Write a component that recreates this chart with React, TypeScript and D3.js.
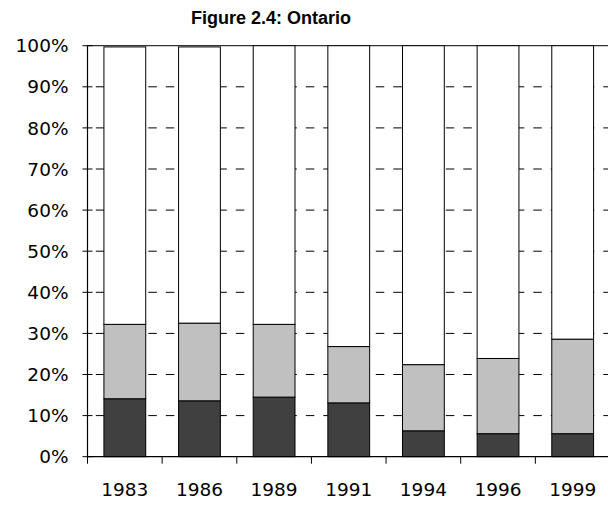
import React from "react";
import * as d3 from "d3";

const years = ["1983", "1986", "1989", "1991", "1994", "1996", "1999"];
const darkShare = [14.1, 13.6, 14.5, 13.1, 6.3, 5.6, 5.6];
const grayTop = [32.2, 32.5, 32.2, 26.8, 22.4, 23.9, 28.6];
const whiteTop = [99.7, 99.7, 100, 100, 100, 100, 100];
const yTicks = [0, 10, 20, 30, 40, 50, 60, 70, 80, 90, 100];
const title = "Figure 2.4: Ontario";

const W = 608, H = 505;
const left = 87.5, right = 610, top = 45.7, bottom = 456.7;

export default function App() {
  const x = d3.scaleBand<string>().domain(years).range([left, right]).paddingInner(0.44).paddingOuter(0.22);
  const xb = d3.scaleBand<string>().domain(years).range([left, right]);
  const y = d3.scaleLinear().domain([0, 100]).range([bottom, top]);
  const font = "'DejaVu Sans', Verdana, sans-serif";
  const segs = years.map((yr, i) => [
    { y0: 0, y1: darkShare[i], fill: "#404040" },
    { y0: darkShare[i], y1: grayTop[i], fill: "#c0c0c0" },
    { y0: grayTop[i], y1: whiteTop[i], fill: "#ffffff" },
  ]);
  return (
    <svg width={W} height={H} style={{ position: "absolute", left: 0, top: 0, background: "#fff" }}>
      <text x={271} y={24} textAnchor="middle" fontFamily="'Liberation Sans Narrow', 'Arial Narrow', 'Liberation Sans', sans-serif" fontWeight="bold" fontSize={18} fill="#000">{title}</text>
      {yTicks.filter(t => t > 0 && t < 100).map(t => (
        <line key={t} x1={left} x2={W} y1={y(t)} y2={y(t)} stroke="#000" strokeWidth={1} strokeDasharray="8.5,9" strokeDashoffset={9.2} />
      ))}
      <line x1={left} x2={W} y1={y(100)} y2={y(100)} stroke="#333" strokeWidth={1.2} />
      {years.map((yr, i) => (
        <g key={yr}>
          {segs[i].map((s, j) => (
            <rect key={j} x={x(yr)} width={x.bandwidth()} y={y(s.y1)} height={y(s.y0) - y(s.y1)} fill={s.fill} stroke="#000" strokeWidth={1} />
          ))}
        </g>
      ))}
      <line x1={left} x2={left} y1={top} y2={bottom} stroke="#000" strokeWidth={1.2} />
      <line x1={left} x2={W} y1={bottom} y2={bottom} stroke="#000" strokeWidth={1.2} />
      {yTicks.map(t => (
        <g key={t}>
          <line x1={left - 5} x2={left + 5} y1={y(t)} y2={y(t)} stroke="#000" strokeWidth={1} />
          <text x={68.5} y={y(t)} dy="0.36em" textAnchor="end" fontFamily={font} fontSize={18.5} fill="#000">{t}%</text>
        </g>
      ))}
      {years.map((yr, i) => (
        <g key={yr}>
          <line x1={xb(yr)} x2={xb(yr)} y1={bottom} y2={bottom + 7} stroke="#000" strokeWidth={1} />
          <text x={(xb(yr) as number) + xb.bandwidth() / 2} y={495.5} textAnchor="middle" fontFamily={font} fontSize={18.5} fill="#000">{yr}</text>
        </g>
      ))}
    </svg>
  );
}
